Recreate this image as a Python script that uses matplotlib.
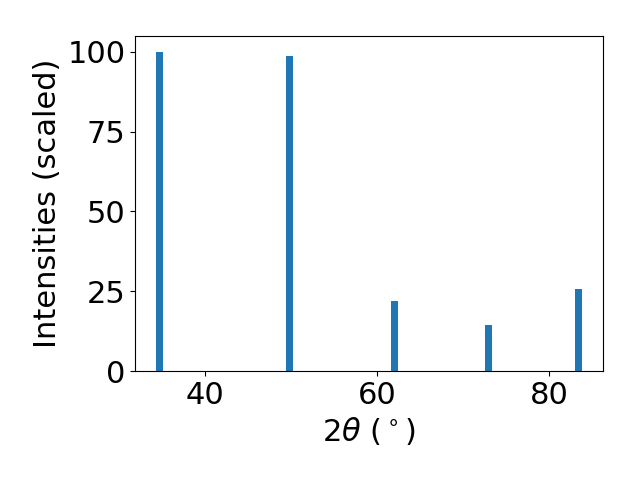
import matplotlib
matplotlib.use("Agg")
import matplotlib.pyplot as plt

# XRD peak positions (2theta, degrees) and scaled intensities
two_theta = [34.7, 49.85, 62.05, 73.0, 83.4]
intensities = [100.0, 98.7, 21.9, 14.3, 25.6]

plt.rcParams['font.size'] = 22
fig, ax = plt.subplots(figsize=(6.4, 4.8), dpi=100)
ax.bar(two_theta, intensities, width=0.8, color='tab:blue')
ax.set_xlabel(r"$2\theta$ ($^\circ$)")
ax.set_ylabel("Intensities (scaled)")
ax.set_yticks([0, 25, 50, 75, 100])
fig.subplots_adjust(left=0.211, right=0.942, bottom=0.227, top=0.925)
fig.savefig("out.png")
